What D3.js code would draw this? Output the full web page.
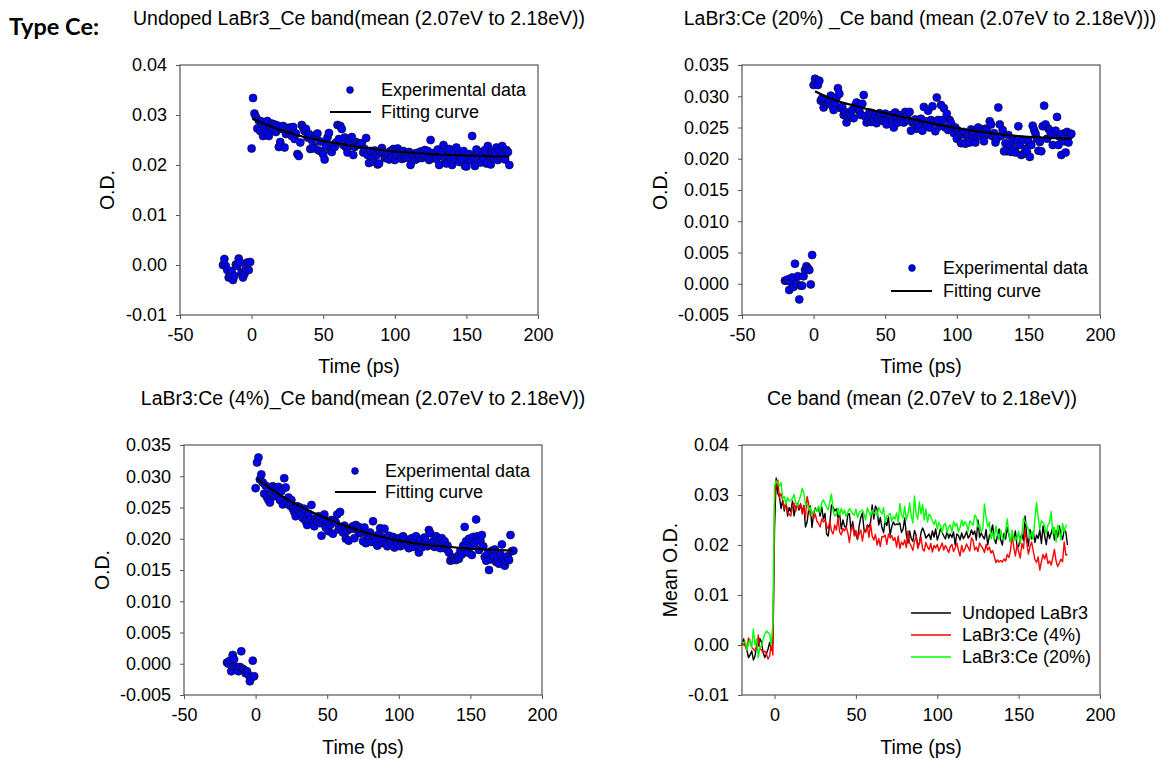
<!DOCTYPE html>
<html><head><meta charset="utf-8">
<script src="https://cdn.jsdelivr.net/npm/d3@7"></script>
<style>
body{margin:0;background:#fff}
svg{display:block}
text{font-family:"Liberation Sans",Arial,sans-serif;fill:#000}
</style>
</head><body>
<svg id="c" width="1168" height="759"></svg>
<script>
// ---------- data ----------
const timePs = [-20,-19,-18,-17,-16,-15,-14,-13,-12,-11,-10,-9,-8,-7,-6,-5,-4,-3,-2,-1,
0,1,2,3,4,5,6,7,8,9,10,11,12,13,14,15,16,17,18,19,20,21,22,23,24,25,26,27,28,29,
30,31,32,33,34,35,36,37,38,39,40,41,42,43,44,45,46,47,48,49,50,51,52,53,54,55,56,57,58,59,
60,61,62,63,64,65,66,67,68,69,70,71,72,73,74,75,76,77,78,79,80,81,82,83,84,85,86,87,88,89,
90,91,92,93,94,95,96,97,98,99,100,101,102,103,104,105,106,107,108,109,110,111,112,113,114,115,116,117,118,119,
120,121,122,123,124,125,126,127,128,129,130,131,132,133,134,135,136,137,138,139,140,141,142,143,144,145,146,147,148,149,
150,151,152,153,154,155,156,157,158,159,160,161,162,163,164,165,166,167,168,169,170,171,172,173,174,175,176,177,178,179,180];

const undopedOD = [0.0000,0.0012,-0.0002,-0.0010,-0.0025,-0.0020,-0.0012,-0.0030,-0.0022,0.0001,-0.0002,0.0013,0.0005,-0.0015,-0.0025,-0.0018,-0.0008,0.0005,-0.0010,0.0006,
0.0233,0.0334,0.0303,0.0296,0.0273,0.0289,0.0268,0.0287,0.0258,0.0275,
0.0266,0.0288,0.0258,0.0276,0.0283,0.0270,0.0281,0.0266,0.0279,0.0236,
0.0246,0.0272,0.0278,0.0235,0.0262,0.0274,0.0268,0.0275,0.0258,0.0276,
0.0252,0.0263,0.0222,0.0218,0.0245,0.0280,0.0275,0.0268,0.0272,0.0255,
0.0262,0.0232,0.0250,0.0238,0.0233,0.0260,0.0263,0.0229,0.0247,0.0226,
0.0221,0.0211,0.0238,0.0255,0.0264,0.0230,0.0226,0.0240,0.0236,0.0245,
0.0280,0.0252,0.0278,0.0272,0.0240,0.0255,0.0235,0.0225,0.0248,0.0239,
0.0256,0.0220,0.0236,0.0246,0.0240,0.0242,0.0241,0.0244,0.0225,0.0232,
0.0254,0.0220,0.0204,0.0228,0.0213,0.0207,0.0229,0.0219,0.0201,0.0203,
0.0225,0.0234,0.0226,0.0214,0.0218,0.0222,0.0211,0.0228,0.0216,0.0232,
0.0210,0.0220,0.0233,0.0225,0.0218,0.0212,0.0228,0.0214,0.0222,0.0215,
0.0226,0.0200,0.0222,0.0219,0.0210,0.0224,0.0213,0.0218,0.0227,0.0214,
0.0219,0.0230,0.0221,0.0228,0.0210,0.0250,0.0215,0.0224,0.0217,0.0212,
0.0231,0.0200,0.0218,0.0225,0.0240,0.0213,0.0203,0.0219,0.0232,0.0210,
0.0200,0.0223,0.0212,0.0235,0.0221,0.0206,0.0215,0.0211,0.0228,0.0198,
0.0197,0.0213,0.0222,0.0209,0.0258,0.0217,0.0198,0.0231,0.0212,0.0226,
0.0205,0.0220,0.0213,0.0230,0.0203,0.0238,0.0218,0.0201,0.0227,0.0213,
0.0224,0.0235,0.0210,0.0229,0.0216,0.0238,0.0222,0.0211,0.0230,0.0226,
0.0200];

const ce4OD = [0.0002,0.0000,0.0005,-0.0012,0.0014,0.0007,-0.0005,-0.0008,-0.0012,-0.0005,0.0020,-0.0008,-0.0010,-0.0015,-0.0012,-0.0018,-0.0028,-0.0022,0.0005,-0.0020,
0.0281,0.0322,0.0330,0.0295,0.0303,0.0290,0.0272,0.0285,0.0266,0.0262,
0.0258,0.0278,0.0284,0.0268,0.0281,0.0274,0.0283,0.0262,0.0276,0.0255,
0.0297,0.0282,0.0259,0.0266,0.0253,0.0262,0.0248,0.0243,0.0236,0.0252,
0.0246,0.0250,0.0238,0.0233,0.0248,0.0228,0.0222,0.0240,0.0230,0.0254,
0.0226,0.0220,0.0233,0.0228,0.0236,0.0225,0.0205,0.0230,0.0239,0.0218,
0.0229,0.0212,0.0222,0.0230,0.0208,0.0228,0.0226,0.0239,0.0215,0.0243,
0.0218,0.0210,0.0221,0.0200,0.0213,0.0197,0.0217,0.0216,0.0220,0.0201,
0.0222,0.0214,0.0219,0.0209,0.0215,0.0196,0.0218,0.0193,0.0206,0.0200,
0.0210,0.0195,0.0228,0.0204,0.0198,0.0189,0.0207,0.0217,0.0193,0.0202,
0.0216,0.0192,0.0188,0.0205,0.0196,0.0191,0.0203,0.0186,0.0199,0.0194,
0.0201,0.0188,0.0196,0.0204,0.0190,0.0199,0.0193,0.0185,0.0197,0.0201,
0.0187,0.0194,0.0204,0.0190,0.0178,0.0199,0.0186,0.0192,0.0202,0.0195,
0.0188,0.0214,0.0209,0.0190,0.0196,0.0187,0.0204,0.0198,0.0193,0.0185,
0.0201,0.0190,0.0196,0.0184,0.0189,0.0178,0.0165,0.0170,0.0166,0.0169,
0.0166,0.0172,0.0168,0.0181,0.0175,0.0189,0.0219,0.0196,0.0178,0.0200,
0.0187,0.0174,0.0203,0.0193,0.0231,0.0204,0.0182,0.0197,0.0206,0.0188,
0.0171,0.0165,0.0176,0.0150,0.0167,0.0181,0.0172,0.0183,0.0163,0.0168,
0.0160,0.0175,0.0191,0.0168,0.0157,0.0164,0.0172,0.0166,0.0206,0.0180,
0.0181];

const ce20OD = [0.0005,0.0005,0.0007,-0.0010,0.0003,0.0010,-0.0005,0.0032,0.0000,0.0012,-0.0025,-0.0003,-0.0003,0.0012,0.0022,0.0028,0.0025,0.0022,-0.0001,0.0046,
0.0318,0.0328,0.0324,0.0318,0.0325,0.0293,0.0297,0.0282,0.0295,0.0288,
0.0290,0.0293,0.0301,0.0285,0.0278,0.0289,0.0298,0.0313,0.0304,0.0281,
0.0283,0.0270,0.0275,0.0258,0.0266,0.0272,0.0268,0.0278,0.0265,0.0285,
0.0290,0.0283,0.0276,0.0270,0.0288,0.0302,0.0268,0.0258,0.0262,0.0274,
0.0259,0.0273,0.0262,0.0270,0.0257,0.0265,0.0273,0.0268,0.0262,0.0260,
0.0272,0.0255,0.0264,0.0268,0.0270,0.0262,0.0250,0.0274,0.0266,0.0258,
0.0270,0.0263,0.0266,0.0258,0.0275,0.0268,0.0262,0.0275,0.0245,0.0258,
0.0260,0.0263,0.0248,0.0257,0.0252,0.0264,0.0245,0.0283,0.0260,0.0254,
0.0277,0.0250,0.0262,0.0284,0.0258,0.0244,0.0298,0.0262,0.0252,0.0286,
0.0262,0.0281,0.0250,0.0272,0.0246,0.0262,0.0257,0.0248,0.0241,0.0250,
0.0232,0.0245,0.0238,0.0225,0.0240,0.0243,0.0224,0.0236,0.0240,0.0226,
0.0247,0.0238,0.0243,0.0226,0.0235,0.0250,0.0238,0.0247,0.0241,0.0228,
0.0248,0.0245,0.0239,0.0260,0.0255,0.0236,0.0241,0.0226,0.0233,0.0282,
0.0255,0.0237,0.0246,0.0212,0.0225,0.0212,0.0238,0.0222,0.0211,0.0230,
0.0215,0.0210,0.0228,0.0252,0.0222,0.0206,0.0230,0.0208,0.0216,0.0211,
0.0228,0.0203,0.0222,0.0253,0.0246,0.0240,0.0232,0.0213,0.0227,0.0212,
0.0252,0.0285,0.0255,0.0232,0.0248,0.0245,0.0238,0.0222,0.0240,0.0245,
0.0267,0.0222,0.0235,0.0206,0.0240,0.0228,0.0210,0.0243,0.0226,0.0238,
0.0240];

const fitTimePs = [1,10,20,30,40,50,60,70,80,90,100,110,120,130,140,150,160,170,180];
const undopedFit = [0.0293,0.0281,0.0270,0.0261,0.0254,0.0248,0.0243,0.0238,0.0234,0.0230,0.0227,0.0225,0.0223,0.0221,0.0220,0.0219,0.0218,0.0217,0.0217];
const ce4Fit = [0.0296,0.0281,0.0266,0.0253,0.0242,0.0232,0.0223,0.0215,0.0208,0.0202,0.0197,0.0193,0.0190,0.0188,0.0186,0.0184,0.0183,0.0182,0.0181];
const ce20Fit = [0.0308,0.0298,0.0290,0.0284,0.0278,0.0273,0.0268,0.0263,0.0258,0.0253,0.0249,0.0245,0.0242,0.0239,0.0237,0.0235,0.0234,0.0233,0.0232];

const panelTitles = [
  "Undoped LaBr3_Ce band(mean (2.07eV to 2.18eV))",
  "LaBr3:Ce (20%) _Ce band (mean (2.07eV to 2.18eV)))",
  "LaBr3:Ce (4%)_Ce band(mean (2.07eV to 2.18eV))",
  "Ce band (mean (2.07eV to 2.18eV))"
];
const seriesNames = ["Undoped LaBr3", "LaBr3:Ce (4%)", "LaBr3:Ce (20%)"];
const seriesColors = ["#000000", "#ff0000", "#00ff00"];
const legendLabels = ["Experimental data", "Fitting curve"];
const xTicksScatter = [-50, 0, 50, 100, 150, 200];
const xTicksMean = [0, 50, 100, 150, 200];
const yTicksWide = [-0.01, 0, 0.01, 0.02, 0.03, 0.04];
const yTicksFine = [-0.005, 0, 0.005, 0.010, 0.015, 0.020, 0.025, 0.030, 0.035];

// ---------- drawing ----------
const svg = d3.select("#c");
const fixMinus = s => s.replace("\u2212", "-");
const fmt2 = d => fixMinus(d3.format(".2f")(d));
const fmt3 = d => fixMinus(d3.format(".3f")(d));
const FRAME = "#555";

svg.append("text").attr("x", 9).attr("y", 35)
  .style("font-family", "Lato, 'Open Sans', sans-serif").style("font-weight", "bold")
  .style("font-size", "23.5px").text("Type Ce:");

function makePanel(c) {
  const g = svg.append("g");
  const x = d3.scaleLinear().domain(c.xDomain).range([c.left, c.right]);
  const y = d3.scaleLinear().domain(c.yDomain).range([c.bottom, c.top]);
  const cx = (c.left + c.right) / 2, cy = (c.top + c.bottom) / 2;

  g.append("text").attr("x", cx + (c.titleDx || 0)).attr("y", c.titleY).attr("text-anchor", "middle")
    .style("font-size", "19.5px").text(c.title);

  const xa = g.append("g").attr("transform", `translate(0,${c.bottom})`)
    .call(d3.axisBottom(x).tickValues(c.xTicks).tickSize(4).tickPadding(9).tickFormat(d => String(d)));
  const ya = g.append("g").attr("transform", `translate(${c.left},0)`)
    .call(d3.axisLeft(y).tickValues(c.yTicks).tickSize(4).tickPadding(9).tickFormat(c.yFmt));
  [xa, ya].forEach(a => {
    a.select(".domain").remove();
    a.selectAll(".tick line").attr("stroke", FRAME);
    a.selectAll(".tick text").style("font-size", "18px").style("font-family", "'Liberation Sans',Arial,sans-serif").attr("fill", "#000");
  });

  g.append("rect").attr("x", c.left).attr("y", c.top)
    .attr("width", c.right - c.left).attr("height", c.bottom - c.top)
    .attr("fill", "none").attr("stroke", FRAME).attr("stroke-width", 1.2);

  g.append("text").attr("x", cx).attr("y", c.xLabelY).attr("text-anchor", "middle")
    .style("font-size", "19.5px").text("Time (ps)");
  g.append("text").attr("transform", `translate(${c.yLabelX},${cy}) rotate(-90)`)
    .attr("text-anchor", "middle").attr("dy", "0.36em")
    .style("font-size", "19.5px").text(c.yLabel);

  return { g, x, y };
}

function scatterPanel(c, values, fitValues) {
  const { g, x, y } = makePanel(c);
  const pts = timePs.map((t, i) => ({ t, v: values[i] }));
  g.append("g").selectAll("circle").data(pts).join("circle")
    .attr("cx", d => x(d.t)).attr("cy", d => y(d.v)).attr("r", 4)
    .attr("fill", "#0000ff").attr("stroke", "#111").attr("stroke-width", 0.7);
  const fit = fitTimePs.map((t, i) => ({ t, v: fitValues[i] }));
  g.append("path").datum(fit)
    .attr("d", d3.line().x(d => x(d.t)).y(d => y(d.v)).curve(d3.curveMonotoneX))
    .attr("fill", "none").attr("stroke", "#000").attr("stroke-width", 2.2);
  // legend
  const L = c.legend;
  g.append("circle").attr("cx", L.mx).attr("cy", L.y1).attr("r", 3.4)
    .attr("fill", "#0000ff").attr("stroke", "#111").attr("stroke-width", 0.7);
  g.append("text").attr("x", L.tx).attr("y", L.y1).attr("dy", "0.36em").style("font-size", "18px").text(legendLabels[0]);
  g.append("line").attr("x1", L.lx1).attr("x2", L.lx2).attr("y1", L.y2).attr("y2", L.y2)
    .attr("stroke", "#000").attr("stroke-width", 2.2);
  g.append("text").attr("x", L.tx).attr("y", L.y2).attr("dy", "0.36em").style("font-size", "18px").text(legendLabels[1]);
}

scatterPanel({
  left: 180, right: 538, top: 65, bottom: 315,
  xDomain: [-50, 200], yDomain: [-0.01, 0.04], xTicks: xTicksScatter, yTicks: yTicksWide, yFmt: fmt2,
  title: panelTitles[0], titleY: 25, titleDx: 0, xLabelY: 373, yLabelX: 107, yLabel: "O.D.",
  legend: { mx: 350, tx: 381, lx1: 330, lx2: 371, y1: 90, y2: 112 }
}, undopedOD, undopedFit);

scatterPanel({
  left: 742, right: 1100, top: 65, bottom: 315,
  xDomain: [-50, 200], yDomain: [-0.005, 0.035], xTicks: xTicksScatter, yTicks: yTicksFine, yFmt: fmt3,
  title: panelTitles[1], titleY: 25, titleDx: -1, xLabelY: 373, yLabelX: 660, yLabel: "O.D.",
  legend: { mx: 912, tx: 943, lx1: 891, lx2: 932, y1: 268, y2: 291 }
}, ce20OD, ce20Fit);

scatterPanel({
  left: 184, right: 542, top: 445, bottom: 695,
  xDomain: [-50, 200], yDomain: [-0.005, 0.035], xTicks: xTicksScatter, yTicks: yTicksFine, yFmt: fmt3,
  title: panelTitles[2], titleY: 405, titleDx: 0, xLabelY: 754, yLabelX: 102, yLabel: "O.D.",
  legend: { mx: 355, tx: 385, lx1: 335, lx2: 376, y1: 471, y2: 492 }
}, ce4OD, ce4Fit);

// mean panel
(function () {
  const c = {
    left: 742, right: 1100, top: 445, bottom: 695,
    xDomain: [-20, 200], yDomain: [-0.01, 0.04], xTicks: xTicksMean, yTicks: yTicksWide, yFmt: fmt2,
    title: panelTitles[3], titleY: 405, titleDx: 1, xLabelY: 754, yLabelX: 670, yLabel: "Mean O.D."
  };
  const { g, x, y } = makePanel(c);
  const seriesVals = [undopedOD, ce4OD, ce20OD];
  const line = d3.line().x((d, i) => x(timePs[i])).y(d => y(d));
  seriesVals.forEach((vals, k) => {
    g.append("path").datum(vals).attr("d", line)
      .attr("fill", "none").attr("stroke", seriesColors[k]).attr("stroke-width", 1.4)
      .attr("stroke-linejoin", "round");
  });
  const ly = [613, 635, 657];
  seriesNames.forEach((name, k) => {
    g.append("line").attr("x1", 911).attr("x2", 951).attr("y1", ly[k]).attr("y2", ly[k])
      .attr("stroke", seriesColors[k]).attr("stroke-width", 1.5);
    g.append("text").attr("x", 962).attr("y", ly[k]).attr("dy", "0.36em").style("font-size", "18px").text(name);
  });
})();
</script>
</body></html>
